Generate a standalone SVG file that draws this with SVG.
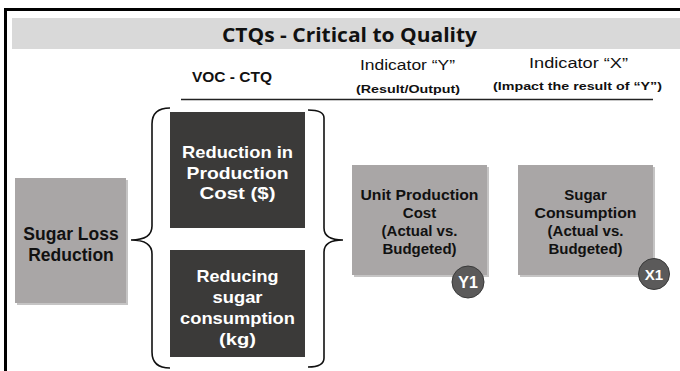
<svg xmlns="http://www.w3.org/2000/svg" width="680" height="371" viewBox="0 0 680 371">
  <defs>
    <style>
      .hdr { font-family: "Liberation Sans", Arial, sans-serif; fill: #111; text-anchor: middle; }
      .gbox { fill: #a9a6a6; }
      .dbox { fill: #3b3a39; }
      .shadow { fill: #8c8a8a; opacity: 0.5; }
      .wtxt { font-family: "Liberation Sans", Arial, sans-serif; font-weight: bold; fill: #ffffff; text-anchor: middle; }
      .btxt { font-family: "Liberation Sans", Arial, sans-serif; font-weight: bold; fill: #111; text-anchor: middle; }
      .brace { fill: none; stroke: #111; stroke-width: 1.6; }
      .badge { fill: #5b5a5a; stroke: #3a3a3a; stroke-width: 1; }
    </style>
  </defs>

  <rect x="0" y="0" width="680" height="371" fill="#ffffff"/>

  <!-- slide frame -->
  <path d="M5.5 380 V9.5 H690" fill="none" stroke="#000" stroke-width="3"/>

  <!-- title band -->
  <g id="title">
    <rect x="12" y="18" width="668" height="31" fill="#d9d9d9"/>
    <text x="349.5" y="42" font-family="'Open Sans', 'Liberation Sans', sans-serif" font-weight="bold" font-size="20" text-anchor="middle" textLength="255" lengthAdjust="spacingAndGlyphs" fill="#111">CTQs - Critical to Quality</text>
  </g>

  <!-- column headers -->
  <g id="headers">
    <text class="hdr" x="232" y="82" font-size="14" font-weight="bold" textLength="80" lengthAdjust="spacingAndGlyphs">VOC - CTQ</text>
    <text class="hdr" x="407.5" y="70" font-size="14" textLength="95" lengthAdjust="spacingAndGlyphs">Indicator “Y”</text>
    <text class="hdr" x="408" y="93" font-size="11.5" font-weight="bold" textLength="104" lengthAdjust="spacingAndGlyphs">(Result/Output)</text>
    <text class="hdr" x="578.5" y="68" font-size="14" textLength="99" lengthAdjust="spacingAndGlyphs">Indicator “X”</text>
    <text class="hdr" x="577.5" y="90" font-size="11.5" font-weight="bold" textLength="169" lengthAdjust="spacingAndGlyphs">(Impact the result of “Y”)</text>
    <line x1="181" y1="99.5" x2="653" y2="99.5" stroke="#222" stroke-width="1.3"/>
  </g>

  <!-- root node -->
  <g id="sugar-loss">
    <rect class="shadow" x="17" y="180" width="111" height="125"/>
    <rect class="gbox" x="15" y="178" width="111" height="125"/>
    <text class="btxt" x="71" y="240" font-size="17.5">Sugar Loss</text>
    <text class="btxt" x="71" y="261" font-size="17.5">Reduction</text>
  </g>

  <!-- connectors: braces -->
  <g id="connectors">
    <path class="brace" d="M170 108 Q152 108 152 124 V226 Q152 240 131 240 Q152 240 152 254 V352 Q152 368 170 368"/>
    <path class="brace" d="M308 110 Q324 110 324 118 V228 Q324 240 343 240 Q324 240 324 252 V358 Q324 367 308 367"/>
  </g>

  <!-- VOC - CTQ nodes -->
  <g id="ctq-cost">
    <rect class="dbox" x="170" y="112" width="135" height="116"/>
    <text class="wtxt" x="237.5" y="158" font-size="16.5" textLength="111" lengthAdjust="spacingAndGlyphs">Reduction in</text>
    <text class="wtxt" x="237.5" y="179" font-size="16.5" textLength="102" lengthAdjust="spacingAndGlyphs">Production</text>
    <text class="wtxt" x="237.5" y="199" font-size="16.5" textLength="76" lengthAdjust="spacingAndGlyphs">Cost ($)</text>
  </g>

  <g id="ctq-sugar">
    <rect class="dbox" x="170" y="250" width="135" height="107"/>
    <text class="wtxt" x="237.5" y="282" font-size="16.5" textLength="82" lengthAdjust="spacingAndGlyphs">Reducing</text>
    <text class="wtxt" x="237.5" y="303" font-size="16.5" textLength="50" lengthAdjust="spacingAndGlyphs">sugar</text>
    <text class="wtxt" x="237.5" y="324" font-size="16.5" textLength="115" lengthAdjust="spacingAndGlyphs">consumption</text>
    <text class="wtxt" x="237.5" y="345" font-size="16.5" textLength="37" lengthAdjust="spacingAndGlyphs">(kg)</text>
  </g>

  <!-- indicator Y -->
  <g id="indicator-y1">
    <rect class="shadow" x="354" y="167" width="135" height="110"/>
    <rect class="gbox" x="352" y="165" width="135" height="110"/>
    <text class="btxt" x="419.5" y="200" font-size="15" textLength="118" lengthAdjust="spacingAndGlyphs">Unit Production</text>
    <text class="btxt" x="419.5" y="218" font-size="15">Cost</text>
    <text class="btxt" x="419.5" y="236" font-size="15">(Actual vs.</text>
    <text class="btxt" x="419.5" y="254" font-size="15">Budgeted)</text>
    <circle class="badge" cx="468" cy="282" r="16"/>
    <text class="wtxt" x="468" y="288" font-size="16">Y1</text>
  </g>

  <!-- indicator X -->
  <g id="indicator-x1">
    <rect class="shadow" x="520" y="167" width="135" height="110"/>
    <rect class="gbox" x="518" y="165" width="135" height="110"/>
    <text class="btxt" x="585.5" y="200" font-size="15">Sugar</text>
    <text class="btxt" x="585.5" y="218" font-size="15" textLength="102" lengthAdjust="spacingAndGlyphs">Consumption</text>
    <text class="btxt" x="585.5" y="236" font-size="15">(Actual vs.</text>
    <text class="btxt" x="585.5" y="254" font-size="15">Budgeted)</text>
    <circle class="badge" cx="654" cy="274" r="15.5"/>
    <text class="wtxt" x="654" y="279.5" font-size="15">X1</text>
  </g>
</svg>
